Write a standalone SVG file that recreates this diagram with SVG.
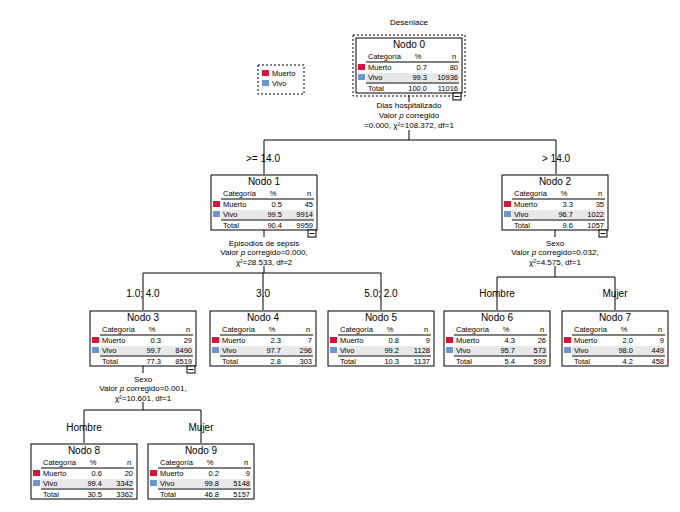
<svg xmlns="http://www.w3.org/2000/svg" width="680" height="512" viewBox="0 0 680 512">
<style>
text{font-family:"Liberation Sans",Arial,sans-serif;fill:#000}
.t{font-size:10px;text-anchor:middle}
.s{font-size:7.5px}
.e{text-anchor:end}
.m{text-anchor:middle}
.sp{font-size:8px;text-anchor:middle}
.b{font-size:10px;text-anchor:middle}
.box{fill:#fff;stroke:#000;stroke-width:1}
.ln{stroke:#000;stroke-width:1}
.g{fill:#e8e8e8}
.r{fill:#d8143a}
.bl{fill:#6a96d2}
.c line,.c polyline{stroke:#000;stroke-width:1;fill:none}
</style>
<defs>
<g id="tbl">
<rect class="box" x="0" y="0" width="106" height="55"/>
<rect class="g" x="10" y="35" width="93" height="9"/>
<line class="ln" x1="10" y1="24" x2="103" y2="24"/>
<line class="ln" x1="10" y1="45" x2="103" y2="45"/>
<rect class="r" x="2" y="26" width="7" height="6"/>
<rect class="bl" x="2" y="36" width="7" height="6"/>
<text class="s" x="12" y="21">Categoría</text>
<text class="s m" x="62" y="21">%</text>
<text class="s m" x="98" y="21">n</text>
<text class="s" x="12" y="32">Muerto</text>
<text class="s" x="12" y="42">Vivo</text>
<text class="s" x="12" y="53">Total</text>
</g>
<g id="col"><rect class="box" x="97" y="55" width="8" height="7"/><line class="ln" x1="98.5" y1="58.5" x2="103.5" y2="58.5"/></g>
</defs>
<text class="b" x="409" y="25" style="font-size:8px">Desenlace</text>
<g id="legend">
<rect x="258" y="65" width="46" height="29" fill="none" stroke="#000" stroke-dasharray="2,2"/>
<rect class="r" x="262" y="70" width="7" height="6"/><text class="s" x="272" y="76">Muerto</text>
<rect class="bl" x="262" y="80" width="7" height="6"/><text class="s" x="272" y="86">Vivo</text>
</g>
<g id="connectors" class="c">
<line x1="409" y1="95" x2="409" y2="102"/><line x1="409" y1="130" x2="409" y2="140"/>
<polyline points="264,174 264,140 556,140 556,174"/>
<line x1="264" y1="230" x2="264" y2="237"/><line x1="264" y1="266" x2="264" y2="273"/>
<polyline points="143,310 143,273 381,273 381,310"/><line x1="263" y1="273" x2="263" y2="310"/>
<line x1="555" y1="230" x2="555" y2="237"/><line x1="555" y1="266" x2="555" y2="277"/>
<polyline points="497,310 497,277 615,277 615,310"/>
<line x1="143" y1="366" x2="143" y2="373"/><line x1="143" y1="402" x2="143" y2="410"/>
<polyline points="84,443 84,410 201,410 201,443"/>
</g>
<g id="labels">
<text class="sp" x="409" y="108">Dias hospitalizado</text>
<text class="sp" x="409" y="118">Valor <tspan font-style="italic">p</tspan> corregido</text>
<text class="sp" x="409" y="128">=0.000, χ²=108.372, df=1</text>
<text class="b" x="263" y="162">&gt;= 14.0</text>
<text class="b" x="556" y="162">&gt; 14.0</text>
<text class="sp" x="264" y="246">Episodios de sepsis</text>
<text class="sp" x="264" y="255">Valor <tspan font-style="italic">p</tspan> corregido=0.000,</text>
<text class="sp" x="264" y="265">χ²=28.533, df=2</text>
<text class="b" x="143" y="297">1.0; 4.0</text>
<text class="b" x="263" y="297">3.0</text>
<text class="b" x="381" y="297">5.0; 2.0</text>
<text class="sp" x="555" y="246">Sexo</text>
<text class="sp" x="555" y="255">Valor <tspan font-style="italic">p</tspan> corregido=0.032,</text>
<text class="sp" x="555" y="265">χ²=4.575, df=1</text>
<text class="b" x="497" y="297">Hombre</text>
<text class="b" x="615" y="297">Mujer</text>
<text class="sp" x="143" y="382">Sexo</text>
<text class="sp" x="143" y="391">Valor <tspan font-style="italic">p</tspan> corregido=0.001,</text>
<text class="sp" x="143" y="401">χ²=10.601, df=1</text>
<text class="b" x="84" y="431">Hombre</text>
<text class="b" x="201" y="431">Mujer</text>
</g>
<g id="nodo0" transform="translate(356,38)">
<rect x="-3" y="-3" width="112" height="61" fill="none" stroke="#000" stroke-dasharray="2,2"/>
<use href="#tbl"/><use href="#col"/>
<text class="t" x="53" y="10">Nodo 0</text>
<text class="s e" x="71" y="32">0.7</text><text class="s e" x="102" y="32">80</text>
<text class="s e" x="71" y="42">99.3</text><text class="s e" x="102" y="42">10936</text>
<text class="s e" x="71" y="53">100.0</text><text class="s e" x="102" y="53">11016</text>
</g>
<g id="nodo1" transform="translate(211,175)">
<use href="#tbl"/><use href="#col"/>
<text class="t" x="53" y="10">Nodo 1</text>
<text class="s e" x="71" y="32">0.5</text><text class="s e" x="102" y="32">45</text>
<text class="s e" x="71" y="42">99.5</text><text class="s e" x="102" y="42">9914</text>
<text class="s e" x="71" y="53">90.4</text><text class="s e" x="102" y="53">9959</text>
</g>
<g id="nodo2" transform="translate(502,175)">
<use href="#tbl"/><use href="#col"/>
<text class="t" x="53" y="10">Nodo 2</text>
<text class="s e" x="71" y="32">3.3</text><text class="s e" x="102" y="32">35</text>
<text class="s e" x="71" y="42">96.7</text><text class="s e" x="102" y="42">1022</text>
<text class="s e" x="71" y="53">9.6</text><text class="s e" x="102" y="53">1057</text>
</g>
<g id="nodo3" transform="translate(90,311)">
<use href="#tbl"/><use href="#col"/>
<text class="t" x="53" y="10">Nodo 3</text>
<text class="s e" x="71" y="32">0.3</text><text class="s e" x="102" y="32">29</text>
<text class="s e" x="71" y="42">99.7</text><text class="s e" x="102" y="42">8490</text>
<text class="s e" x="71" y="53">77.3</text><text class="s e" x="102" y="53">8519</text>
</g>
<g id="nodo4" transform="translate(210,311)">
<use href="#tbl"/>
<text class="t" x="53" y="10">Nodo 4</text>
<text class="s e" x="71" y="32">2.3</text><text class="s e" x="102" y="32">7</text>
<text class="s e" x="71" y="42">97.7</text><text class="s e" x="102" y="42">296</text>
<text class="s e" x="71" y="53">2.8</text><text class="s e" x="102" y="53">303</text>
</g>
<g id="nodo5" transform="translate(328,311)">
<use href="#tbl"/>
<text class="t" x="53" y="10">Nodo 5</text>
<text class="s e" x="71" y="32">0.8</text><text class="s e" x="102" y="32">9</text>
<text class="s e" x="71" y="42">99.2</text><text class="s e" x="102" y="42">1128</text>
<text class="s e" x="71" y="53">10.3</text><text class="s e" x="102" y="53">1137</text>
</g>
<g id="nodo6" transform="translate(444,311)">
<use href="#tbl"/>
<text class="t" x="53" y="10">Nodo 6</text>
<text class="s e" x="71" y="32">4.3</text><text class="s e" x="102" y="32">26</text>
<text class="s e" x="71" y="42">95.7</text><text class="s e" x="102" y="42">573</text>
<text class="s e" x="71" y="53">5.4</text><text class="s e" x="102" y="53">599</text>
</g>
<g id="nodo7" transform="translate(562,311)">
<use href="#tbl"/>
<text class="t" x="53" y="10">Nodo 7</text>
<text class="s e" x="71" y="32">2.0</text><text class="s e" x="102" y="32">9</text>
<text class="s e" x="71" y="42">98.0</text><text class="s e" x="102" y="42">449</text>
<text class="s e" x="71" y="53">4.2</text><text class="s e" x="102" y="53">458</text>
</g>
<g id="nodo8" transform="translate(31,444)">
<use href="#tbl"/>
<text class="t" x="53" y="10">Nodo 8</text>
<text class="s e" x="71" y="32">0.6</text><text class="s e" x="102" y="32">20</text>
<text class="s e" x="71" y="42">99.4</text><text class="s e" x="102" y="42">3342</text>
<text class="s e" x="71" y="53">30.5</text><text class="s e" x="102" y="53">3362</text>
</g>
<g id="nodo9" transform="translate(148,444)">
<use href="#tbl"/>
<text class="t" x="53" y="10">Nodo 9</text>
<text class="s e" x="71" y="32">0.2</text><text class="s e" x="102" y="32">9</text>
<text class="s e" x="71" y="42">99.8</text><text class="s e" x="102" y="42">5148</text>
<text class="s e" x="71" y="53">46.8</text><text class="s e" x="102" y="53">5157</text>
</g>
</svg>
